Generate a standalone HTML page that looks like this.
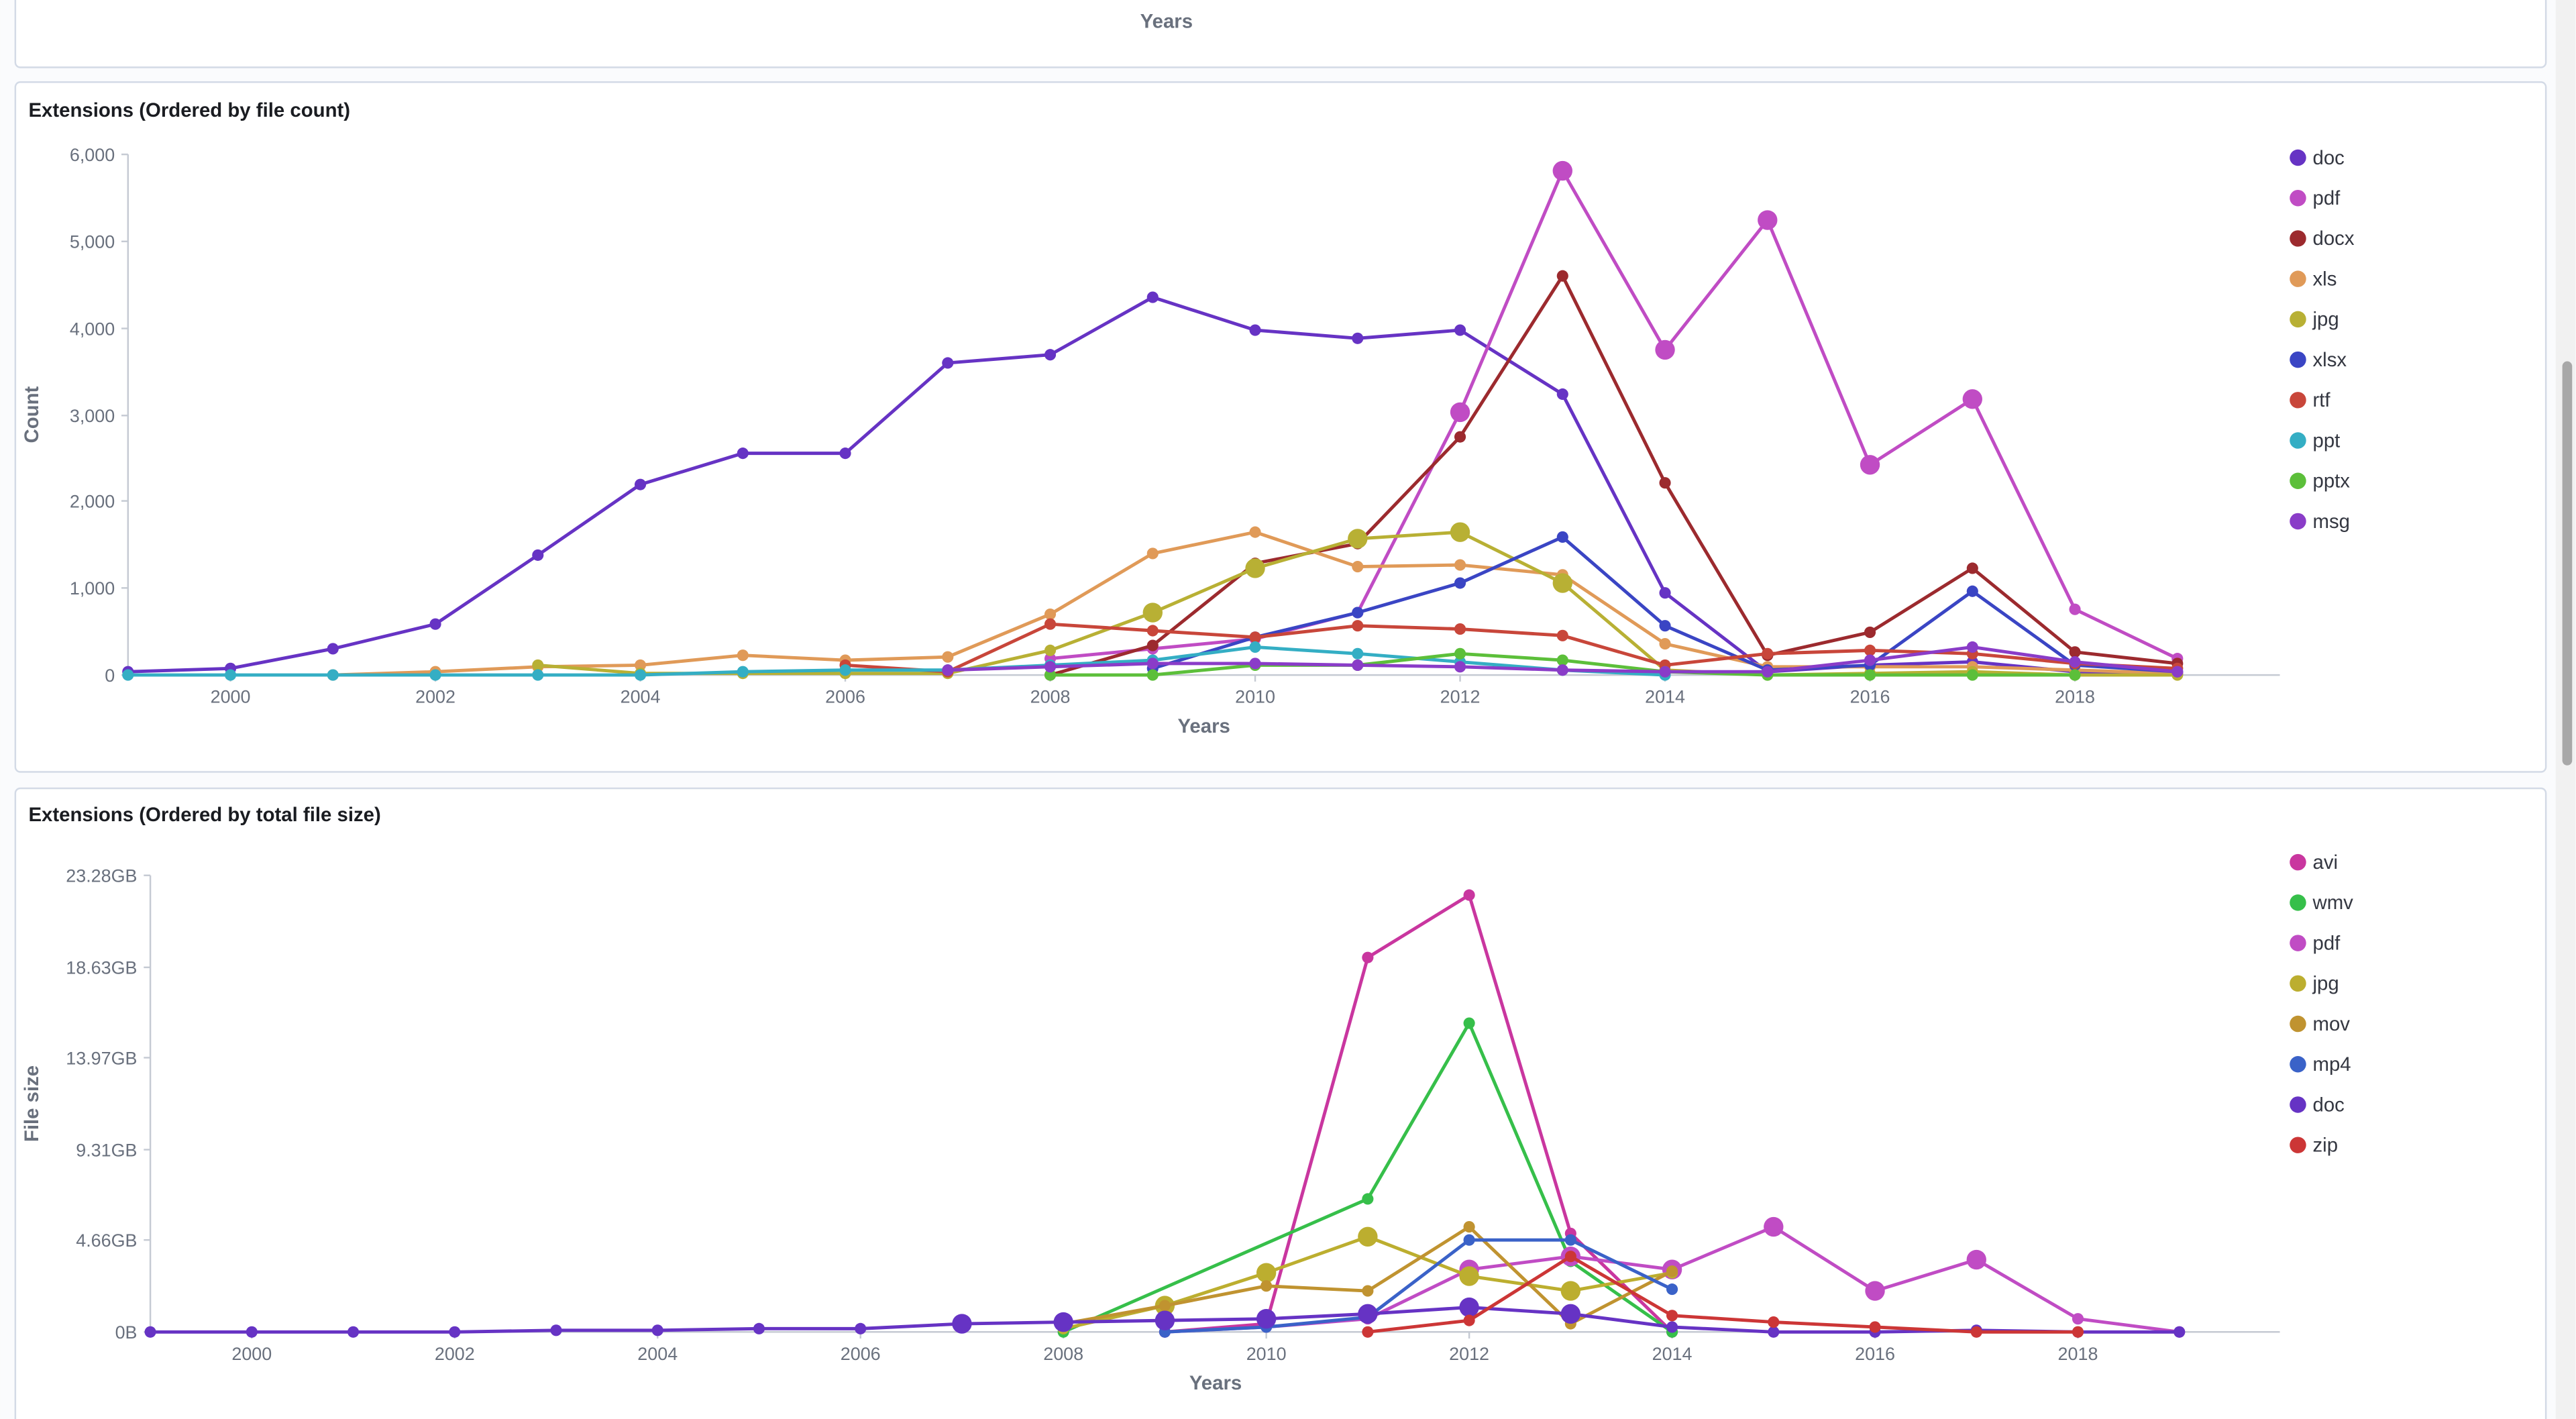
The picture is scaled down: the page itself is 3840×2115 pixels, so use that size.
<!DOCTYPE html>
<html><head><meta charset="utf-8"><style>
html,body{margin:0;padding:0;background:#fafbfd;}
svg{display:block;font-family:"Liberation Sans",sans-serif;}
</style></head><body>
<svg id="s" width="3840" height="2115" viewBox="0 0 1568 864" xmlns="http://www.w3.org/2000/svg">
<rect x="0" y="0" width="1568" height="864" fill="#fafbfd"/>
<rect x="9" y="-10" width="1541" height="51" fill="#fff" stroke="#d3dae6" rx="3"/>
<text x="710" y="17" font-size="12" font-weight="bold" fill="#69707d" text-anchor="middle">Years</text>
<rect x="9" y="50" width="1541" height="420" fill="#fff" stroke="#d3dae6" rx="3"/>
<text x="17" y="71" font-size="12" font-weight="bold" fill="#1a1c21">Extensions (Ordered by file count)</text>
<rect x="9" y="480" width="1541" height="400" fill="#fff" stroke="#d3dae6" rx="3"/>
<text x="17" y="500" font-size="12" font-weight="bold" fill="#1a1c21">Extensions (Ordered by total file size)</text>
<rect x="1556" y="0" width="12" height="864" fill="#f1f1f1"/>
<rect x="1560" y="220" width="6" height="246" rx="3" fill="#a8a8a8"/>
<g id="g"></g>
</svg>
<script>
const g=document.getElementById('g');let h='';
function T(x,y,t,o){h+=`<text x="${x}" y="${y}" font-size="${o.fs||11}" fill="${o.c||'#69707d'}" text-anchor="${o.a||'start'}" ${o.b?'font-weight="bold"':''} ${o.tr?`transform="${o.tr}"`:''}>${t}</text>`;}
function L(x1,y1,x2,y2,c){h+=`<line x1="${x1}" y1="${y1}" x2="${x2}" y2="${y2}" stroke="${c}" stroke-width="1"/>`;}
function chart(x0,px,y0,ytop,yt,series,legY,ylabel,ylx,xlab){
  L(x0,ytop,x0,y0,'#c5cad3');L(x0,y0,1388,y0,'#c5cad3');
  yt.forEach(([v,y])=>{T(x0-8,y+4,v,{a:'end'});L(x0-4,y,x0,y,'#c5cad3');});
  for(let yr=2000;yr<=2018;yr+=2){const x=x0+(yr-1999)*px;T(x,y0+17,yr,{a:'middle'});L(x,y0,x,y0+4,'#c5cad3');}
  T(x0+(2009.5-1999)*px,y0+35,'Years',{a:'middle',b:1,fs:12});
  T(ylx,(ytop+y0)/2,ylabel,{a:'middle',b:1,fs:12,tr:`rotate(-90 ${ylx} ${(ytop+y0)/2})`});
  series.forEach((s,i)=>{
    const pts=Object.entries(s.d).map(([k,v])=>[x0+(k-1999)*px,Array.isArray(v)?v[0]:v,Array.isArray(v)]);
    h+=`<polyline fill="none" stroke="${s.c}" stroke-width="2" points="${pts.map(p=>p[0]+','+p[1]).join(' ')}"/>`;
    pts.forEach(p=>{h+=`<circle cx="${p[0]}" cy="${p[1]}" r="${p[2]?6:3.5}" fill="${s.c}"/>`;});
    const ly=legY+i*24.6;h+=`<circle cx="1399" cy="${ly}" r="5" fill="${s.c}"/>`;T(1408,ly+4,s.n,{fs:12,c:'#343741'});
  });
}
chart(77.6,62.4,411,94,[['0',411],['1,000',358],['2,000',305],['3,000',253],['4,000',200],['5,000',147],['6,000',94]],[
{n:'doc',c:'#6633c4',d:{1999:409,2000:407,2001:395,2002:380,2003:338,2004:295,2005:276,2006:276,2007:221,2008:216,2009:181,2010:201,2011:206,2012:201,2013:240,2014:361,2015:409,2016:405,2017:403,2018:409,2019:410}},
{n:'pdf',c:'#c04cc4',d:{2008:401,2009:395,2010:389,2011:373,2012:[251],2013:[104],2014:[213],2015:[134],2016:[283],2017:[243],2018:371,2019:401}},
{n:'docx',c:'#9c2a2e',d:{2008:411,2009:393,2010:343,2011:331,2012:266,2013:168,2014:294,2015:399,2016:385,2017:346,2018:397,2019:404}},
{n:'xls',c:'#e09a58',d:{2001:411,2002:409,2003:406,2004:405,2005:399,2006:402,2007:400,2008:374,2009:337,2010:324,2011:345,2012:344,2013:350,2014:392,2015:406,2016:406,2017:406,2018:408,2019:410}},
{n:'jpg',c:'#b8b034',d:{2003:405,2004:410,2005:410,2006:410,2007:410,2008:396,2009:[373],2010:[346],2011:[328],2012:[324],2013:[355],2014:408,2015:411,2016:410,2017:409,2018:411,2019:411}},
{n:'xlsx',c:'#3a45c4',d:{2009:407,2010:388,2011:373,2012:355,2013:327,2014:381,2015:408,2016:405,2017:360,2018:405,2019:409}},
{n:'rtf',c:'#c8463a',d:{2006:405,2007:409,2008:380,2009:384,2010:388,2011:381,2012:383,2013:387,2014:405,2015:398,2016:396,2017:398,2018:404,2019:407}},
{n:'ppt',c:'#34aec4',d:{1999:411,2000:411,2001:411,2002:411,2003:411,2004:411,2005:409,2006:408,2007:408,2008:405,2009:402,2010:394,2011:398,2012:403,2013:408,2014:411}},
{n:'pptx',c:'#5cbf3a',d:{2008:411,2009:411,2010:405,2011:405,2012:398,2013:402,2014:409,2015:411,2016:411,2017:411,2018:411}},
{n:'msg',c:'#8a3cc8',d:{2007:408,2008:406,2009:404,2010:404,2011:405,2012:406,2013:408,2014:409,2015:409,2016:402,2017:394,2018:403,2019:409}}
],96,'Count',23);
chart(91.2,61.78,811,533,[['0B',811],['4.66GB',755],['9.31GB',700],['13.97GB',644],['18.63GB',589],['23.28GB',533]],[
{n:'avi',c:'#c9369f',d:{2009:811,2010:806,2011:583,2012:545,2013:751,2014:811}},
{n:'wmv',c:'#36bf4a',d:{2008:811,2011:730,2012:623,2013:768,2014:811}},
{n:'pdf',c:'#c04cc4',d:{2009:811,2010:808,2011:803,2012:[773],2013:[765],2014:[773],2015:[747],2016:[786],2017:[767],2018:803,2019:811}},
{n:'jpg',c:'#bcae2f',d:{2008:809,2009:[795],2010:[775],2011:[753],2012:[777],2013:[786],2014:775}},
{n:'mov',c:'#c09330',d:{2008:806,2009:795,2010:783,2011:786,2012:747,2013:806,2014:774}},
{n:'mp4',c:'#3a62c8',d:{2009:811,2010:808,2011:802,2012:755,2013:755,2014:785}},
{n:'doc',c:'#6633c4',d:{1999:811,2000:811,2001:811,2002:811,2003:810,2004:810,2005:809,2006:809,2007:[806],2008:[805],2009:[804],2010:[803],2011:[800],2012:[796],2013:[800],2014:808,2015:811,2016:811,2017:810,2018:811,2019:811}},
{n:'zip',c:'#cc3636',d:{2011:811,2012:804,2013:765,2014:801,2015:805,2016:808,2017:811,2018:811}}
],525,'File size',23);
g.innerHTML=h;
</script>
</body></html>
